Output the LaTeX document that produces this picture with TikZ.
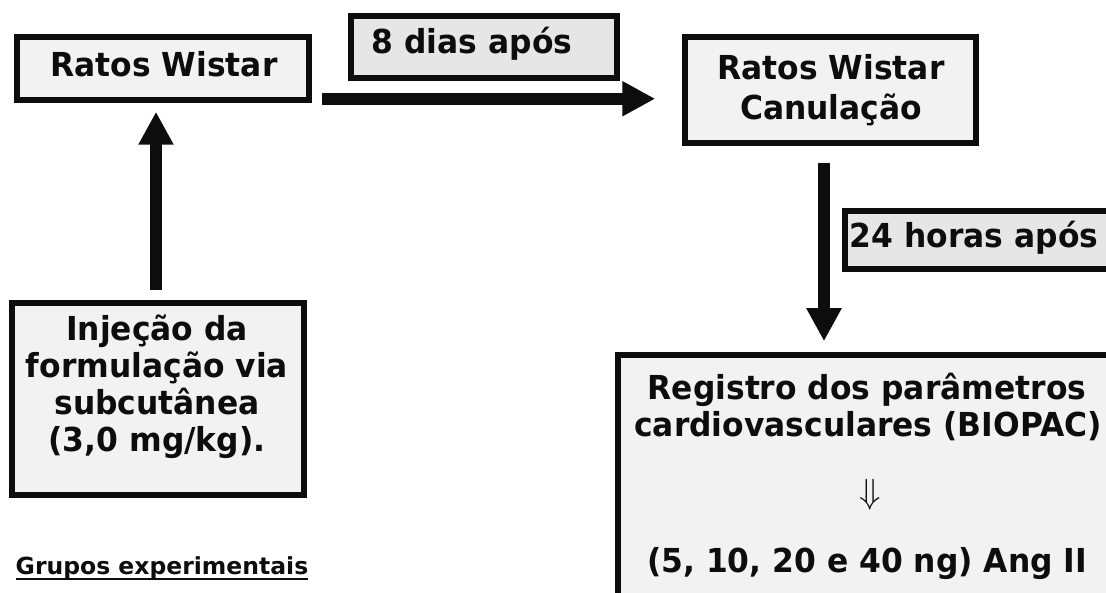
\documentclass[tikz,border=0pt]{standalone}
\usepackage{fontspec}
\usepackage{graphicx}
\usetikzlibrary{arrows.meta}
\newfontfamily\cfont{DejaVu Sans}[FakeStretch=0.95]
\newfontfamily\gfont{DejaVu Sans}
\definecolor{boxfill}{HTML}{F2F2F2}
\definecolor{tagfill}{HTML}{E6E6E6}
\definecolor{ink}{HTML}{0D0D0D}
\tikzset{
  box/.style={draw=ink, line width=5.5pt, fill=boxfill, inner sep=0pt},
  tagbox/.style={box, fill=tagfill},
  txt/.style={font=\cfont\bfseries\fontsize{33}{33}\selectfont, text=ink, inner sep=0pt, anchor=base},
  bigarrow/.style={draw=ink, line width=12pt, -{Triangle[length=33pt,width=33pt]}}
}
\begin{document}
\begin{tikzpicture}[x=1pt,y=-1pt]
\useasboundingbox (0,0) rectangle (1106,593);
\clip (0,0) rectangle (1106,593);
\fill[white] (0,0) rectangle (1106,593);
% boxes
\node[box, minimum width=292pt, minimum height=63pt] (b1) at (163,68.5) {};
\node[tagbox, minimum width=266pt, minimum height=62pt] (d8) at (484,47) {};
\node[box, minimum width=291pt, minimum height=106pt] (can) at (830.5,90) {};
\node[tagbox, minimum width=264pt, minimum height=58pt] (h24) at (977,240) {};
\node[box, minimum width=292pt, minimum height=192pt] (inj) at (158,399) {};
\node[box, minimum width=498pt, minimum height=300pt] (reg) at (867,505) {};
% texts
\node[txt] (t1) at (164,77) {Ratos Wistar};
\node[txt] (t2) at (472,54) {8 dias após};
\node[txt] (t3) at (831,80) {Ratos Wistar};
\node[txt] (t4) at (831,120) {Canulação};
\node[txt] (t5) at (974,248) {24 horas após};
\node[txt] (t6) at (157,341) {Injeção da};
\node[txt] (t7) at (157,378) {formulação via};
\node[txt] (t8) at (157,415) {subcutânea};
\node[txt] (t9) at (157,452) {(3,0 mg/kg).};
\node[txt] (r1) at (867,400) {Registro dos parâmetros};
\node[txt] (r2) at (868,436) {cardiovasculares (BIOPAC)};
\node[inner sep=0pt, text=ink] (r3) at (870,495) {\scalebox{3.5}{$\Downarrow$}};
\node[txt] (r4) at (867,572) {(5, 10, 20 e 40 ng) Ang II};
\node[txt, font=\gfont\bfseries\fontsize{23.5}{23.5}\selectfont] (gr) at (162,574) {Grupos experimentais};
\draw[ink, line width=2.5pt] ([yshift=-5pt]gr.base west) -- ([yshift=-5pt]gr.base east);
% arrows
\coordinate (h1) at ([shift={(10,-4)}]b1.south east);
\draw[bigarrow, shorten >=27pt] (h1) -- (h1 -| can.west);
\draw[bigarrow, shorten <=10pt, shorten >=9pt] ([xshift=-2pt]inj.north) -- ([xshift=-2pt]inj.north |- b1.south);
\draw[bigarrow, shorten <=17pt, shorten >=11pt] ([xshift=-6.5pt]can.south) -- ([xshift=-6.5pt]can.south |- reg.north);
\end{tikzpicture}
\end{document}
